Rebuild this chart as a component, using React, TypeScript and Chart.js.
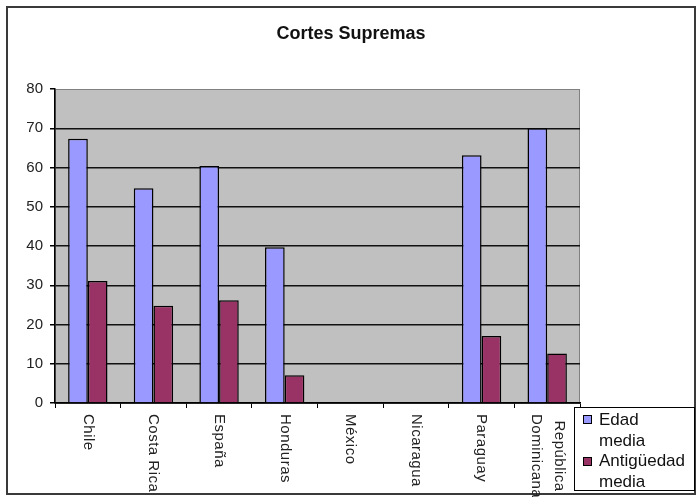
import React, { useEffect, useRef } from 'react';
import { Chart, registerables } from 'chart.js';

Chart.register(...registerables);

const TITLE = 'Cortes Supremas';
const categories: (string | string[])[] = [
  'Chile',
  'Costa Rica',
  'España',
  'Honduras',
  'México',
  'Nicaragua',
  'Paraguay',
  ['República', 'Dominicana'],
];
const edadMedia: (number | null)[] = [67.3, 54.7, 60.4, 39.7, null, null, 63.1, 70];
const antiguedadMedia: (number | null)[] = [31.1, 24.8, 26.2, 7.1, null, null, 17.1, 12.6];
const seriesNames: string[][] = [
  ['Edad', 'media'],
  ['Antigüedad', 'media'],
];
const seriesColors = ['#9999FF', '#993366'];
const yMin = 0;
const yMax = 80;
const yStep = 10;

const FONT = "'Liberation Sans', Arial, sans-serif";

const decorPlugin = {
  id: 'decor',
  beforeDraw(chart: any) {
    const { ctx, chartArea, width, height } = chart;
    ctx.save();
    ctx.fillStyle = '#ffffff';
    ctx.fillRect(0, 0, width, height);
    // outer frame
    ctx.strokeStyle = '#3a3a3a';
    ctx.lineWidth = 2;
    ctx.strokeRect(7, 7, width - 8, height - 10);
    // plot background
    ctx.fillStyle = '#C0C0C0';
    ctx.fillRect(chartArea.left, chartArea.top, chartArea.right - chartArea.left, chartArea.bottom - chartArea.top);
    ctx.strokeStyle = '#808080';
    ctx.lineWidth = 1;
    ctx.strokeRect(chartArea.left + 0.5, chartArea.top + 0.5, chartArea.right - chartArea.left - 1, chartArea.bottom - chartArea.top);
    ctx.restore();
  },
  afterDraw(chart: any) {
    const { ctx, chartArea, width, height } = chart;
    const xScale = chart.scales.x;
    ctx.save();
    // title
    ctx.fillStyle = '#111';
    ctx.font = `bold 18px ${FONT}`;
    ctx.textAlign = 'center';
    ctx.textBaseline = 'middle';
    ctx.fillText(TITLE, (7 + width - 1) / 2, 34);

    // x labels rotated clockwise
    ctx.font = `15px ${FONT}`;
    (ctx as any).letterSpacing = '0.5px';
    ctx.fillStyle = '#222';
    ctx.textBaseline = 'middle';
    ctx.textAlign = 'left';
    const lh = 23;
    categories.forEach((lab, i) => {
      const lines = Array.isArray(lab) ? lab : [lab];
      const x = xScale.getPixelForValue(i);
      const widths = lines.map((l) => ctx.measureText(l).width);
      const maxW = Math.max(...widths);
      ctx.save();
      ctx.translate(x, chartArea.bottom + 11);
      ctx.rotate(Math.PI / 2);
      lines.forEach((l, k) => {
        const off = (k - (lines.length - 1) / 2) * lh;
        ctx.fillText(l, (maxW - widths[k]) / 2, off);
      });
      ctx.restore();
    });
    (ctx as any).letterSpacing = '0px';

    // legend
    const bl = chartArea.right - 6;
    const bt = chartArea.bottom + 4;
    const br = width - 1;
    const bb = height - 6;
    ctx.fillStyle = '#ffffff';
    ctx.fillRect(bl, bt, br - bl, bb - bt);
    ctx.strokeStyle = '#000';
    ctx.lineWidth = 1;
    ctx.strokeRect(bl + 0.5, bt + 0.5, br - bl - 1, bb - bt - 1);
    ctx.font = `17px ${FONT}`;
    ctx.textBaseline = 'alphabetic';
    ctx.textAlign = 'left';
    chart.data.datasets.forEach((ds: any, i: number) => {
      const sy = bt + 8 + i * 42;
      ctx.fillStyle = seriesColors[i];
      ctx.fillRect(bl + 9, sy, 9, 9);
      ctx.strokeStyle = '#000';
      ctx.strokeRect(bl + 9.5, sy + 0.5, 8, 8);
      ctx.fillStyle = '#111';
      seriesNames[i].forEach((t, j) => {
        ctx.fillText(t, bl + 25, bt + 18 + i * 41 + j * 20.5);
      });
    });
    ctx.restore();
  },
};

export default function App() {
  const ref = useRef<HTMLCanvasElement | null>(null);
  useEffect(() => {
    if (!ref.current) return;
    const chart = new Chart(ref.current, {
      type: 'bar',
      data: {
        labels: categories as any,
        datasets: [
          {
            label: seriesNames[0].join(' '),
            data: edadMedia,
            backgroundColor: seriesColors[0],
            borderColor: '#000',
            borderWidth: 1.5,
            categoryPercentage: 0.6,
            barPercentage: 1.0,
          },
          {
            label: seriesNames[1].join(' '),
            data: antiguedadMedia,
            backgroundColor: seriesColors[1],
            borderColor: '#000',
            borderWidth: 1.5,
            categoryPercentage: 0.6,
            barPercentage: 1.0,
          },
        ],
      },
      options: {
        responsive: false,
        animation: false,
        events: [],
        layout: { padding: { top: 89, right: 116, left: 0, bottom: 0 } },
        plugins: {
          legend: { display: false },
          title: { display: false },
          tooltip: { enabled: false },
        },
        scales: {
          x: {
            grid: {
              drawOnChartArea: false,
              drawTicks: true,
              tickLength: 5,
              tickColor: '#000',
              offset: true,
            },
            border: { color: '#000', width: 1.5 },
            ticks: { display: false },
            afterFit(scale: any) {
              scale.height = 94;
            },
          },
          y: {
            min: yMin,
            max: yMax,
            ticks: {
              stepSize: yStep,
              padding: 7,
              color: '#222',
              font: { family: FONT, size: 15 },
            },
            grid: {
              color: (c: any) => (c.tick && c.tick.value === yMax ? 'rgba(0,0,0,0)' : '#111'),
              lineWidth: 1.5,
              tickLength: 5,
              tickColor: '#000',
            },
            border: { color: '#000', width: 1.5 },
            afterFit(scale: any) {
              scale.width = 55;
            },
          },
        },
      },
      plugins: [decorPlugin],
    });
    return () => chart.destroy();
  }, []);
  return (
    <div style={{ position: 'absolute', left: 0, top: 0, width: 696, height: 497 }}>
      <canvas ref={ref} width={696} height={497} style={{ width: 696, height: 497, display: 'block' }} />
    </div>
  );
}
